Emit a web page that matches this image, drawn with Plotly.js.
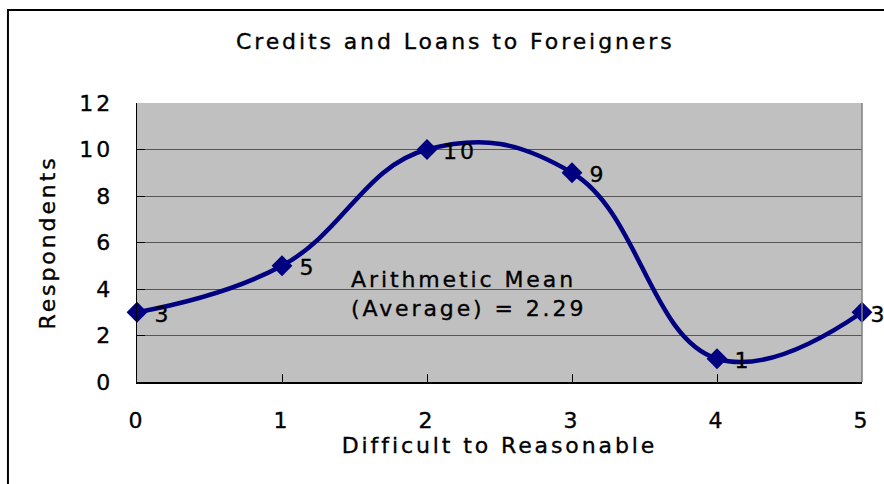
<!DOCTYPE html>
<html>
<head>
<meta charset="utf-8">
<script src="https://cdn.plot.ly/plotly-3.0.1.min.js"></script>
<style>
  html, body { margin: 0; padding: 0; background: #ffffff; }
  #chart { width: 884px; height: 484px; }
  /* wide, slightly heavy lettering for every label in the chart */
  #chart svg text { letter-spacing: 2.9px; stroke: #000; stroke-width: 0.35px; }
</style>
</head>
<body>
<div id="chart"></div>
<script>
// Survey scores: 0 = difficult ... 5 = reasonable
const scores = [0, 1, 2, 3, 4, 5];
const respondents = [3, 5, 10, 9, 1, 3];
const yTicks = [0, 2, 4, 6, 8, 10, 12];
const meanValue = 2.29;

const FONT = 'DejaVu Sans, Verdana, sans-serif';
const NAVY = '#000080';
const SIZE = 22;

const trace = {
  x: scores,
  y: respondents,
  type: 'scatter',
  mode: 'lines+markers',
  line: { color: NAVY, width: 4.5, shape: 'spline', smoothing: 1.2 },
  marker: { symbol: 'diamond', size: 16, color: NAVY },
  cliponaxis: false,
  hoverinfo: 'x+y'
};

// value labels sit just right of each marker; the last one is tucked in
// closer so it stays near the chart edge
const valueLabels = scores.map((s, i) => ({
  x: s, y: respondents[i], xref: 'x', yref: 'y',
  text: String(respondents[i]),
  showarrow: false, xanchor: 'left', yanchor: 'middle',
  xshift: i === scores.length - 1 ? 8 : 17, yshift: -2,
  font: { family: FONT, size: SIZE, color: '#000' }
}));

const layout = {
  width: 884, height: 484,
  margin: { l: 137, r: 22, t: 103, b: 102 },
  paper_bgcolor: '#ffffff',
  plot_bgcolor: '#C0C0C0',
  showlegend: false,
  font: { family: FONT, size: SIZE, color: '#000' },
  title: {
    text: 'Credits and Loans to Foreigners',
    font: { family: FONT, size: SIZE, color: '#000' },
    x: 0.515, xanchor: 'center', y: 0.915, yanchor: 'middle'
  },
  xaxis: {
    range: [0, 5], tickvals: scores, ticktext: scores.map(String),
    showgrid: false, zeroline: false,
    showline: true, linecolor: '#000', linewidth: 1.5,
    ticks: 'inside', ticklen: 8, tickcolor: '#000', tickwidth: 1,
    ticklabelstandoff: 18,
    tickfont: { family: FONT, size: SIZE },
    title: { text: 'Difficult to Reasonable', font: { family: FONT, size: SIZE }, standoff: 4 }
  },
  yaxis: {
    range: [0, 12], tickvals: yTicks, ticktext: yTicks.map(String),
    showgrid: true, gridcolor: '#555555', gridwidth: 1,
    zeroline: false,
    showline: true, linecolor: '#000', linewidth: 1.5,
    ticks: 'inside', ticklen: 8, tickcolor: '#000', tickwidth: 1,
    ticklabelstandoff: 18,
    tickfont: { family: FONT, size: SIZE },
    title: { text: 'Respondents', font: { family: FONT, size: SIZE }, standoff: 23 }
  },
  shapes: [
    // right edge of the plot area
    { type: 'line', xref: 'paper', yref: 'paper', x0: 1, x1: 1, y0: 0, y1: 1,
      line: { color: '#808080', width: 1.5 } },
    // chart frame
    { type: 'rect', xref: 'paper', yref: 'paper', x0: -0.178, x1: 1.2, y0: -0.6, y1: 1.333,
      line: { color: '#000', width: 2 }, fillcolor: 'rgba(0,0,0,0)', layer: 'above' }
  ],
  annotations: valueLabels.concat([{
    x: 1.46, y: 5.05, xref: 'x', yref: 'y',
    text: 'Arithmetic Mean<br>(Average) = ' + meanValue.toFixed(2),
    showarrow: false, xanchor: 'left', yanchor: 'top', align: 'left',
    font: { family: FONT, size: SIZE, color: '#000' }
  }])
};

Plotly.newPlot('chart', [trace], layout, { displayModeBar: false, staticPlot: true });
</script>
</body>
</html>
